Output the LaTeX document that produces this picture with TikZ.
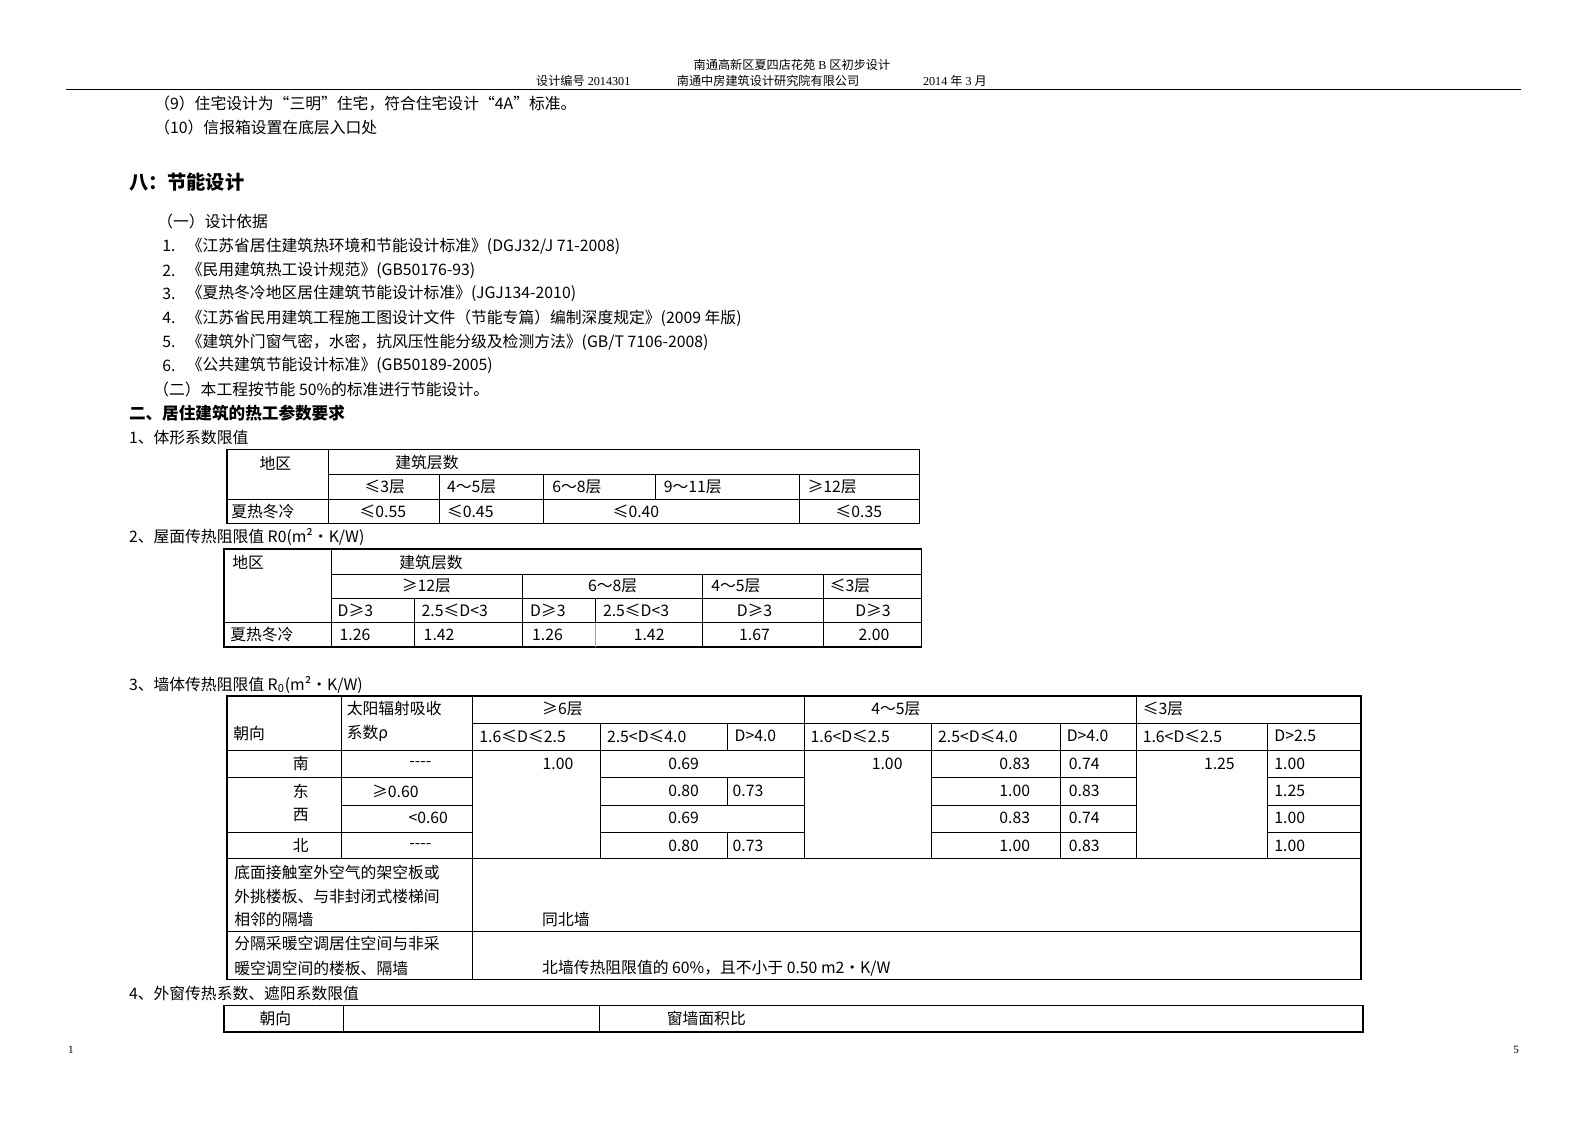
\documentclass[tikz,border=0pt]{standalone}
\usepackage{fontspec}
\setmainfont{Noto Sans CJK SC}
\newfontfamily\latserif{Liberation Serif}
\newcommand\bodyf{\fontsize{7.8}{9}\selectfont}
\newcommand\hdrf{\fontsize{6}{7}\selectfont}
\newcommand\secf{\fontsize{9.5}{11}\selectfont\bfseries}
\newcommand\subsecf{\fontsize{8.2}{10}\selectfont\bfseries}
\newcommand\fourdash{-{}-{}-{}-}
\begin{document}
\begin{tikzpicture}[x=0.5pt,y=-0.5pt,
  tx/.style={inner sep=0pt,anchor=west,font=\bodyf},
  tc/.style={inner sep=0pt,anchor=center,font=\bodyf},
  hd/.style={inner sep=0pt,anchor=west,font=\hdrf},
  outer/.style={line width=0.75pt},
  inner/.style={line width=0.5pt},
  faint/.style={line width=0.5pt,draw=black!35}]
\useasboundingbox (0,0) rectangle (1568,1109);
% header
\node[inner sep=0pt,anchor=center,font=\hdrf] (h1) at (782,64) {南通高新区夏四店花苑{\latserif\ B\ }区初步设计};
\node[hd] (h2) at (529,80) {设计编号{\latserif\ 2014301}};
\node[hd] (h3) at (668,80) {南通中房建筑设计研究院有限公司};
\node[hd] (h4) at (911,80) {{\latserif 2014 }年{\latserif\ 3 }月};
\draw[line width=0.6pt] (65,88) -- (1502,88);
% footer
\node[inner sep=0pt,font=\latserif\fontsize{5.5}{6}\selectfont] (f1) at (70,1037) {1};
\node[inner sep=0pt,font=\latserif\fontsize{5.5}{6}\selectfont] (f2) at (1497,1037) {5};
% body
\node[tx] (b1) at (152,102) {（9）住宅设计为“三明”住宅，符合住宅设计“4A”标准。};
\node[tx] (b2) at (152,126) {（10）信报箱设置在底层入口处};
\node[inner sep=0pt,anchor=west,font=\secf] (b3) at (127,180) {八：节能设计};
\node[tx] (b4) at (155,219) {（一）设计依据};
\node[tx] (n1) at (160,243) {1.};
\node[tx] (i1) at (184,243) {《江苏省居住建筑热环境和节能设计标准》(DGJ32/J 71-2008)};
\node[tx] (n2) at (160,267) {2.};
\node[tx] (i2) at (184,267) {《民用建筑热工设计规范》(GB50176-93)};
\node[tx] (n3) at (160,290) {3.};
\node[tx] (i3) at (184,290) {《夏热冬冷地区居住建筑节能设计标准》(JGJ134-2010)};
\node[tx] (n4) at (160,314) {4.};
\node[tx] (i4) at (184,314) {《江苏省民用建筑工程施工图设计文件（节能专篇）编制深度规定》(2009 年版)};
\node[tx] (n5) at (160,338) {5.};
\node[tx] (i5) at (184,338) {《建筑外门窗气密，水密，抗风压性能分级及检测方法》(GB/T 7106-2008)};
\node[tx] (n6) at (160,361) {6.};
\node[tx] (i6) at (184,361) {《公共建筑节能设计标准》(GB50189-2005)};
\node[tx] (b5) at (151,385) {（二）本工程按节能 50\%的标准进行节能设计。};
\node[inner sep=0pt,anchor=west,font=\subsecf] (b6) at (127,408) {二、居住建筑的热工参数要求};
\node[tx] (b7) at (127,432) {1、体形系数限值};
\node[tx] (b8) at (127,530) {2、屋面传热阻限值 R0(m²·K/W)};
\node[tx] (b9) at (127,676) {3、墙体传热阻限值 R\textsubscript{0}(m²·K/W)};
\node[tx] (b10) at (127,981) {4、外窗传热系数、遮阳系数限值};
% ---------- table 1
\draw[outer] (224,444) rectangle (908,517);
\draw[inner] (324,444) -- (324,517);
\draw[inner] (324,469) -- (908,469);
\draw[inner] (224,493) -- (908,493);
\draw[inner] (434,469) -- (434,517);
\draw[inner] (537,469) -- (537,517);
\draw[inner] (647,469) -- (647,493);
\draw[inner] (789,469) -- (789,517);
\node[tc] (ta1) at (272,457) {地区};
\node[tx] (ta2) at (390,457) {建筑层数};
\node[tc] (ta3) at (380,481) {≤3层};
\node[tx] (ta4) at (441,481) {4～5层};
\node[tx] (ta5) at (545,481) {6～8层};
\node[tx] (ta6) at (655,481) {9～11层};
\node[tx] (ta7) at (797,481) {≥12层};
\node[tx] (ta8) at (228,505) {夏热冬冷};
\node[tc] (ta9) at (378,505) {≤0.55};
\node[tx] (ta10) at (441,505) {≤0.45};
\node[tc] (ta11) at (628,505) {≤0.40};
\node[tc] (ta12) at (848,505) {≤0.35};
% ---------- table 2
\draw[outer] (221,542) rectangle (910,639);
\draw[inner] (327,542) -- (327,639);
\draw[inner] (327,567) -- (910,567);
\draw[inner] (327,591) -- (910,591);
\draw[inner] (221,615) -- (910,615);
\draw[inner] (516,567) -- (516,639);
\draw[inner] (694,567) -- (694,639);
\draw[inner] (813,567) -- (813,639);
\draw[inner] (409,591) -- (409,639);
\draw[inner] (588,591) -- (588,615);
\draw[faint] (588,615) -- (588,639);
\node[tx] (tb1) at (229,555) {地区};
\node[tx] (tb2) at (394,555) {建筑层数};
\node[tc] (tb3) at (421,579) {≥12层};
\node[tc] (tb4) at (605,579) {6～8层};
\node[tx] (tb5) at (702,579) {4～5层};
\node[tx] (tb6) at (819,579) {≤3层};
\node[tx] (tb7) at (333,603) {D≥3};
\node[tx] (tb8) at (416,603) {2.5≤D<3};
\node[tx] (tb9) at (523,603) {D≥3};
\node[tx] (tb10) at (595,603) {2.5≤D<3};
\node[tc] (tb11) at (745,603) {D≥3};
\node[tc] (tb12) at (862,603) {D≥3};
\node[tx] (tb13) at (227,627) {夏热冬冷};
\node[tx] (tb14) at (335,627) {1.26};
\node[tx] (tb15) at (418,627) {1.42};
\node[tx] (tb16) at (525,627) {1.26};
\node[tc] (tb17) at (641,627) {1.42};
\node[tc] (tb18) at (745,627) {1.67};
\node[tc] (tb19) at (863,627) {2.00};
% ---------- table 3
\draw[outer] (224,687) rectangle (1344,967);
\draw[inner] (337,687) -- (337,848);
\draw[inner] (467,687) -- (467,967);
\draw[inner] (794,687) -- (794,848);
\draw[inner] (1122,687) -- (1122,848);
\draw[inner] (467,714) -- (1344,714);
\foreach \xx in {593,920,1047,1252} \draw[inner] (\xx,714) -- (\xx,848);
\draw[inner] (718,714) -- (718,741);
\draw[inner] (718,768) -- (718,795);
\draw[inner] (718,822) -- (718,848);
\draw[inner] (224,741) -- (1344,741);
\draw[inner] (224,768) -- (467,768) (593,768) -- (794,768) (920,768) -- (1122,768) (1252,768) -- (1344,768);
\draw[inner] (337,795) -- (467,795) (593,795) -- (794,795) (920,795) -- (1122,795) (1252,795) -- (1344,795);
\draw[inner] (224,822) -- (467,822) (593,822) -- (794,822) (920,822) -- (1122,822) (1252,822) -- (1344,822);
\draw[inner] (224,848) -- (1344,848);
\draw[inner] (224,920) -- (1344,920);
\node[tx] (tc1) at (230,724) {朝向};
\node[tx] (tc2) at (342,700) {太阳辐射吸收};
\node[tx] (tc3) at (342,724) {系数ρ};
\node[tx] (tc4) at (535,700) {≥6层};
\node[tx] (tc5) at (860,700) {4～5层};
\node[tx] (tc6) at (1128,700) {≤3层};
\node[tx] (tc7) at (473,727) {1.6≤D≤2.5};
\node[tx] (tc8) at (599,727) {2.5<D≤4.0};
\node[tx] (tc9) at (725,727) {D>4.0};
\node[tx] (tc10) at (800,727) {1.6<D≤2.5};
\node[tx] (tc11) at (926,727) {2.5<D≤4.0};
\node[tx] (tc12) at (1053,727) {D>4.0};
\node[tx] (tc13) at (1128,727) {1.6<D≤2.5};
\node[tx] (tc14) at (1258,727) {D>2.5};
% row south
\node[tc] (s1) at (297,754) {南};
\node[tc] (s2) at (415,754) {\fourdash};
\node[tc] (s3) at (551,754) {1.00};
\node[tc] (s4) at (675,754) {0.69};
\node[tc] (s5) at (876,754) {1.00};
\node[tc] (s6) at (1002,754) {0.83};
\node[tx] (s7) at (1055,754) {0.74};
\node[tc] (s8) at (1204,754) {1.25};
\node[tx] (s9) at (1258,754) {1.00};
% row east
\node[tc] (e1) at (297,781) {东};
\node[tx] (e2) at (367,781) {≥0.60};
\node[tc] (e3) at (675,781) {0.80};
\node[tx] (e4) at (723,781) {0.73};
\node[tc] (e5) at (1002,781) {1.00};
\node[tx] (e6) at (1055,781) {0.83};
\node[tx] (e7) at (1258,781) {1.25};
% row west
\node[tc] (w1) at (297,805) {西};
\node[tx] (w2) at (403,808) {<0.60};
\node[tc] (w3) at (675,808) {0.69};
\node[tc] (w4) at (1002,808) {0.83};
\node[tx] (w5) at (1055,808) {0.74};
\node[tx] (w6) at (1258,808) {1.00};
% row north
\node[tc] (nn1) at (297,835) {北};
\node[tc] (nn2) at (415,835) {\fourdash};
\node[tc] (nn3) at (675,835) {0.80};
\node[tx] (nn4) at (723,835) {0.73};
\node[tc] (nn5) at (1002,835) {1.00};
\node[tx] (nn6) at (1055,835) {0.83};
\node[tx] (nn7) at (1258,835) {1.00};
% lower rows
\node[tx] (l1) at (231,861) {底面接触室外空气的架空板或};
\node[tx] (l2) at (231,885) {外挑楼板、与非封闭式楼梯间};
\node[tx] (l3) at (231,908) {相邻的隔墙};
\node[tx] (l4) at (535,908) {同北墙};
\node[tx] (l5) at (231,932) {分隔采暖空调居住空间与非采};
\node[tx] (l6) at (231,956) {暖空调空间的楼板、隔墙};
\node[tx] (l7) at (535,956) {北墙传热阻限值的 60\%，且不小于 0.50 m2·K/W};
% ---------- table 4
\draw[outer] (221,993) rectangle (1346,1019);
\draw[inner] (339,993) -- (339,1019);
\draw[inner] (592,993) -- (592,1019);
\node[tc] (td1) at (272,1006) {朝向};
\node[tx] (td2) at (658,1006) {窗墙面积比};
\end{tikzpicture}
\end{document}
